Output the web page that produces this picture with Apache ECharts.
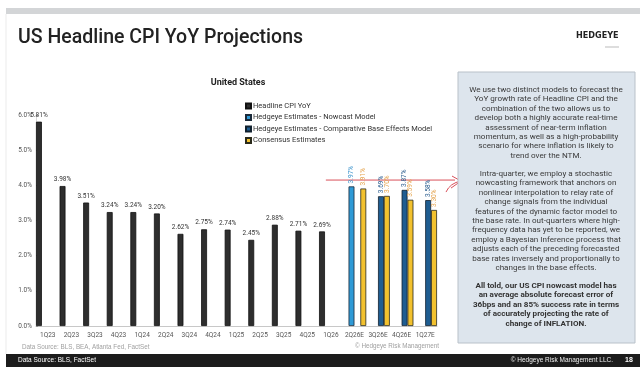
<!DOCTYPE html>
<html>
<head>
<meta charset="utf-8">
<script src="https://cdn.jsdelivr.net/npm/echarts@6/dist/echarts.min.js"></script>
<style>
  html, body { margin: 0; padding: 0; background: #fff; }
  #chart { width: 640px; height: 367px; }
</style>
</head>
<body>
<div id="chart"></div>
<script>
// quarters and series values
const quarters = ['1Q23','2Q23','3Q23','4Q23','1Q24','2Q24','3Q24','4Q24','1Q25','2Q25','3Q25','4Q25','1Q26','2Q26E','3Q26E','4Q26E','1Q27E'];
const headlineCpi = [5.81,3.98,3.51,3.24,3.24,3.20,2.62,2.75,2.74,2.45,2.88,2.71,2.69,null,null,null,null];
const nowcast     = [null,null,null,null,null,null,null,null,null,null,null,null,null,3.97,null,null,null];
const baseEffects = [null,null,null,null,null,null,null,null,null,null,null,null,null,null,3.69,3.87,3.58];
const consensus   = [null,null,null,null,null,null,null,null,null,null,null,null,null,3.91,3.70,3.59,3.30];
const yMin = 0, yMax = 6, yStep = 1;
const markerLevel = 4.15;

const para1 = 'We use two distinct models to forecast the\nYoY growth rate of Headline CPI and the\ncombination of the two allows us to\ndevelop both a highly accurate real-time\nassessment of near-term inflation\nmomentum, as well as a high-probability\nscenario for where inflation is likely to\ntrend over the NTM.';
const para2 = 'Intra-quarter, we employ a stochastic\nnowcasting framework that anchors on\nnonlinear interpolation to relay rate of\nchange signals from the individual\nfeatures of the dynamic factor model to\nthe base rate. In out-quarters where high-\nfrequency data has yet to be reported, we\nemploy a Bayesian Inference process that\nadjusts each of the preceding forecasted\nbase rates inversely and proportionally to\nchanges in the base effects.';
const para3 = 'All told, our US CPI nowcast model has\nan average absolute forecast error of\n36bps and an 85% success rate in terms\nof accurately projecting the rate of\nchange of INFLATION.';

const FONT = 'Roboto, "Noto Sans", sans-serif';
const pct = p => p.value == null ? '' : p.value.toFixed(2) + '%';

function vLabel(color) {
  return { show: true, position: 'top', rotate: 90, align: 'left', verticalAlign: 'middle',
           distance: 3, fontSize: 6.5, color: color, fontFamily: FONT, formatter: pct };
}

const chart = echarts.init(document.getElementById('chart'), null, { renderer: 'canvas' });
chart.setOption({
  backgroundColor: '#fff',
  animation: false,
  textStyle: { fontFamily: FONT },
  title: [
    { text: 'US Headline CPI YoY Projections', left: 13, top: 23,
      textStyle: { fontSize: 19.5, fontWeight: 500, color: '#222', fontFamily: FONT } },
    { text: 'United States', left: 233, top: 73, textAlign: 'center',
      textStyle: { fontSize: 9, fontWeight: 'bold', color: '#222', fontFamily: FONT } }
  ],
  legend: {
    orient: 'vertical', left: 240, top: 97, itemWidth: 5, itemHeight: 5, itemGap: 3.5,
    icon: 'rect', textStyle: { fontSize: 7.5, color: '#333', padding: [0, 0, 0, -3] },
    data: ['Headline CPI YoY', 'Hedgeye Estimates - Nowcast Model',
           'Hedgeye Estimates - Comparative Base Effects Model', 'Consensus Estimates']
  },
  grid: { left: 36, top: 115, width: 401, height: 211 },
  xAxis: {
    type: 'category', data: quarters,
    axisLine: { lineStyle: { color: '#c8c8c8' } },
    axisTick: { show: false },
    axisLabel: { fontSize: 6.5, color: '#555', margin: 6, interval: 0 }
  },
  yAxis: {
    type: 'value', min: yMin, max: yMax, interval: yStep,
    axisLine: { show: true, lineStyle: { color: '#d8d8d8' } },
    axisTick: { show: true, length: 2, inside: true, lineStyle: { color: '#999' } },
    splitLine: { show: false },
    axisLabel: { fontSize: 6.5, color: '#555', margin: 4, formatter: v => v.toFixed(1) + '%' }
  },
  series: [
    { name: 'Headline CPI YoY', type: 'bar', data: headlineCpi, barGap: '0%', barCategoryGap: '0%',
      itemStyle: { color: '#2e2e2e', borderColor: '#111', borderWidth: 0.8 },
      label: { show: true, position: 'top', distance: 3, fontSize: 6.5, color: '#333', formatter: pct } },
    { name: 'Hedgeye Estimates - Nowcast Model', type: 'bar', data: nowcast,
      itemStyle: { color: '#2f9ad6', borderColor: '#1a2a3a', borderWidth: 0.8 },
      label: vLabel('#3b93cc') },
    { name: 'Hedgeye Estimates - Comparative Base Effects Model', type: 'bar', data: baseEffects,
      itemStyle: { color: '#1f5d91', borderColor: '#10202e', borderWidth: 0.8 },
      label: vLabel('#2a5d8f') },
    { name: 'Consensus Estimates', type: 'bar', data: consensus,
      itemStyle: { color: '#f2c12e', borderColor: '#2a2a1a', borderWidth: 0.8 },
      label: vLabel('#e4a24a') }
  ]
});

// annotation arrow + slide furniture, positioned from the axis scale where it matters
const yLine = chart.convertToPixel({ gridIndex: 0 }, [0, markerLevel])[1];
const xStart = chart.convertToPixel({ gridIndex: 0 }, [12, 0])[0] - 5;

chart.setOption({
  graphic: [
    { type: 'rect', shape: { x: 6, y: 8, width: 634, height: 6 }, style: { fill: '#d3d5d7' } },
    { type: 'line', shape: { x1: 6, y1: 14, x2: 6, y2: 354 }, style: { stroke: '#ebebeb', lineWidth: 1 } },
    { type: 'text', x: 576, y: 31, style: { text: 'HEDGEYE', fontSize: 9, fontWeight: 'bold',
      fontFamily: '"Liberation Sans Narrow", "DejaVu Sans Condensed", sans-serif', fill: '#222' } },
    { type: 'line', shape: { x1: 605, y1: 47, x2: 619, y2: 47 }, style: { stroke: '#bbb', lineWidth: 1 } },

    { type: 'line', shape: { x1: xStart, y1: yLine, x2: 455, y2: yLine },
      style: { stroke: '#d9505a', lineWidth: 1 } },
    { type: 'polyline', shape: { points: [[452, yLine - 4], [461, yLine + 1], [451, yLine + 8]] },
      style: { stroke: '#d9505a', lineWidth: 1, fill: null } },
    { type: 'bezierCurve', shape: { x1: 446, y1: yLine + 12, x2: 461, y2: yLine + 1, cpx1: 450, cpy1: yLine + 3 },
      style: { stroke: '#d9505a', lineWidth: 1, fill: null } },

    { type: 'rect', shape: { x: 458, y: 72, width: 177, height: 271 },
      style: { fill: '#dde5ed', stroke: '#b9c1c9', lineWidth: 1 } },
    { type: 'text', x: 546, y: 85, style: { text: para1, fontSize: 8.1, lineHeight: 9.45, fill: '#3a3a3a',
      align: 'center', fontFamily: FONT } },
    { type: 'text', x: 546, y: 169, style: { text: para2, fontSize: 8.1, lineHeight: 9.45, fill: '#3a3a3a',
      align: 'center', fontFamily: FONT } },
    { type: 'text', x: 546, y: 281, style: { text: para3, fontSize: 8.1, lineHeight: 9.5, fill: '#333',
      align: 'center', fontWeight: 'bold', fontFamily: FONT } },

    { type: 'text', x: 22, y: 344, style: { text: 'Data Source: BLS, BEA, Atlanta Fed, FactSet', fontSize: 6.3, fill: '#a0a0a0' } },
    { type: 'text', x: 355, y: 343, style: { text: '\u00a9 Hedgeye Risk Management', fontSize: 6.3, fill: '#a0a0a0' } },
    { type: 'rect', shape: { x: 6, y: 354, width: 634, height: 13 }, style: { fill: '#1c1c1c' } },
    { type: 'text', x: 18, y: 357, style: { text: 'Data Source: BLS, FactSet', fontSize: 6.5, fill: '#fff' } },
    { type: 'text', x: 613, y: 357, style: { text: '\u00a9 Hedgeye Risk Management LLC.', fontSize: 6.5, fill: '#eee', align: 'right' } },
    { type: 'text', x: 625, y: 356.5, style: { text: '18', fontSize: 7, fontWeight: 'bold', fill: '#fff' } }
  ]
});
</script>
</body>
</html>
